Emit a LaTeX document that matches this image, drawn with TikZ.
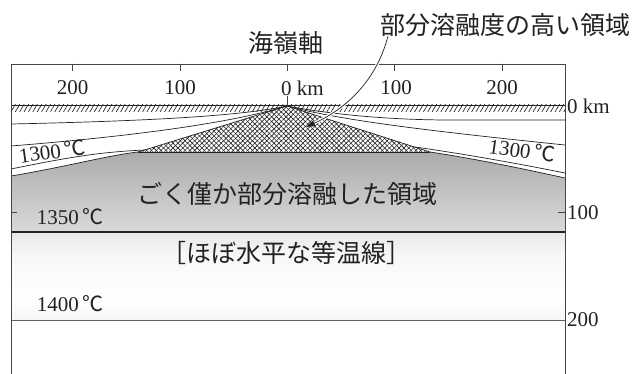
\documentclass[tikz,border=0pt]{standalone}
\usepackage{fontspec}
\setmainfont{Liberation Serif}
\newfontfamily\jp{Noto Sans CJK JP}
\usetikzlibrary{patterns.meta,arrows.meta}

\definecolor{ink}{HTML}{222222}
\definecolor{framec}{HTML}{454545}
\definecolor{greytop}{HTML}{ABABAB}
\definecolor{greybot}{HTML}{DADADA}
\definecolor{bandtop}{HTML}{C8C8C8}
\definecolor{bandbot}{HTML}{CDCDCD}

% lower band: grey at both edges, white in the middle (colours listed bottom to top)
\pgfdeclareverticalshading{isoband}{100bp}{color(0bp)=(bandbot); color(14bp)=(white!94!black); color(38bp)=(white); color(62bp)=(white!97!black); color(100bp)=(bandtop)}

\newcommand\celsiusmark{{\jp ℃}}

\tikzset{
  frame/.style={draw=framec, line width=0.8pt},
  iso/.style={draw=ink, line width=0.7pt},
  num/.style={inner sep=0pt, text=ink, font=\fontsize{21}{21}\selectfont},
  jlab/.style={inner sep=0pt, text=ink, font=\jp\fontsize{25}{25}\selectfont},
}

\begin{document}
\begin{tikzpicture}[x=1pt,y=-1pt]
\useasboundingbox (0,0) rectangle (639,374);
\fill[white] (0,0) rectangle (639,374);

% mantle with slight partial melting
\shade[top color=greytop, bottom color=greybot]
  (11,176) .. controls (60,168) and (110,155) .. (138,152) -- (430,152)
  .. controls (470,158) and (520,168) .. (565,178) -- (565,232) -- (11,232) -- cycle;

% band of nearly horizontal isotherms
\shade[shading=isoband] (11,232) rectangle (565,320);

% hatched sea floor layer
\fill[pattern={Lines[angle=60,distance=3.8pt,line width=0.65pt]},pattern color=ink]
  (11,105) rectangle (565,111.5);
\draw[iso] (11,105) -- (565,105);

% region of high partial melting beneath the ridge axis
\coordinate (apex) at (287,106);
\coordinate (hl) at (138,152);
\coordinate (hr) at (430,152);
\fill[white] (apex) -- (hr) -- (hl) -- cycle;
\fill[pattern={Lines[angle=45,distance=3.4pt,line width=0.6pt]},pattern color=ink]
  (apex) -- (hr) -- (hl) -- cycle;
\fill[pattern={Lines[angle=-45,distance=3.4pt,line width=0.6pt]},pattern color=ink]
  (apex) -- (hr) -- (hl) -- cycle;
\draw[iso] (hl) -- (apex) -- (hr);
\draw[iso] (hl) -- (hr);

% isotherms converging on the ridge axis
\draw[iso] (11,124) .. controls (150,121) and (240,116) .. (apex);
\draw[iso] (apex) .. controls (340,116) and (400,120) .. (450,120) -- (565,120);
\draw[iso] (11,146) .. controls (160,134) and (240,120) .. (apex);
\draw[iso] (apex) .. controls (340,120) and (420,130) .. (565,145);
% 1300 C isotherm
\draw[iso] (11,169) .. controls (70,157) and (100,152) .. (145,150);
\draw[iso] (415,147) .. controls (450,152) and (500,160) .. (565,173);
% top of the grey mantle
\draw[iso] (11,176) .. controls (60,168) and (110,155) .. (hl);
\draw[iso] (hr) .. controls (470,158) and (520,168) .. (565,178);

% boundaries at 1350 C and 1400 C
\draw[draw=ink, line width=1.3pt] (11,232) -- (565,232);
\draw[draw=gray!75!black, line width=0.8pt] (11,320) -- (565,320);

% frame and scale ticks
\draw[frame] (11,374) -- (11,64) -- (565,64) -- (565,374);
\foreach \x in {72.7,180,287,394,502} \draw[frame] (\x,64) -- (\x,71);
\draw[frame] (287,96) -- (apex);
\draw[frame] (11,212.5) -- (17,212.5);
\draw[frame] (558,212.5) -- (565,212.5);

% horizontal distance labels
\node[num] (d200l) at (72.7,88) {200};
\node[num] (d100l) at (180,88) {100};
\node[num,anchor=west] (d0) at (281,88) {0 km};
\node[num] (d100r) at (396,88) {100};
\node[num] (d200r) at (502,88) {200};

% depth labels
\node[num,anchor=west] (z0) at (567,106.5) {0 km};
\node[num,anchor=west] (z100) at (567,212.5) {100};
\node[num,anchor=west] (z200) at (567,319.5) {200};

% temperature labels
\node[num,rotate=8] (t1300l) at (52,151) {1300\,\celsiusmark};
\node[num,rotate=-8] (t1300r) at (522,150) {1300\,\celsiusmark};
\node[num] (t1350) at (70,217) {1350\,\celsiusmark};
\node[num] (t1400) at (70,304) {1400\,\celsiusmark};

% region names
\node[jlab] (axis) at (285.5,43) {海嶺軸};
\node[jlab] (hmelt) at (505,25) {部分溶融度の高い領域};
\node[jlab] (smelt) at (287.5,194) {ごく僅か部分溶融した領域};
\node[jlab] (flat) at (286,253) {［ほぼ水平な等温線］};

% leader from the label into the melting region
\coordinate (lead) at (388,36);
\coordinate (tip) at (306,127);
\draw[white, line width=3pt, shorten >=7pt] (lead) .. controls (378,75) and (352,106) .. (tip);
\draw[draw=ink, line width=0.7pt, -{Triangle[length=9pt,width=6pt]}]
  (lead) .. controls (378,75) and (352,106) .. (tip);
\end{tikzpicture}
\end{document}
